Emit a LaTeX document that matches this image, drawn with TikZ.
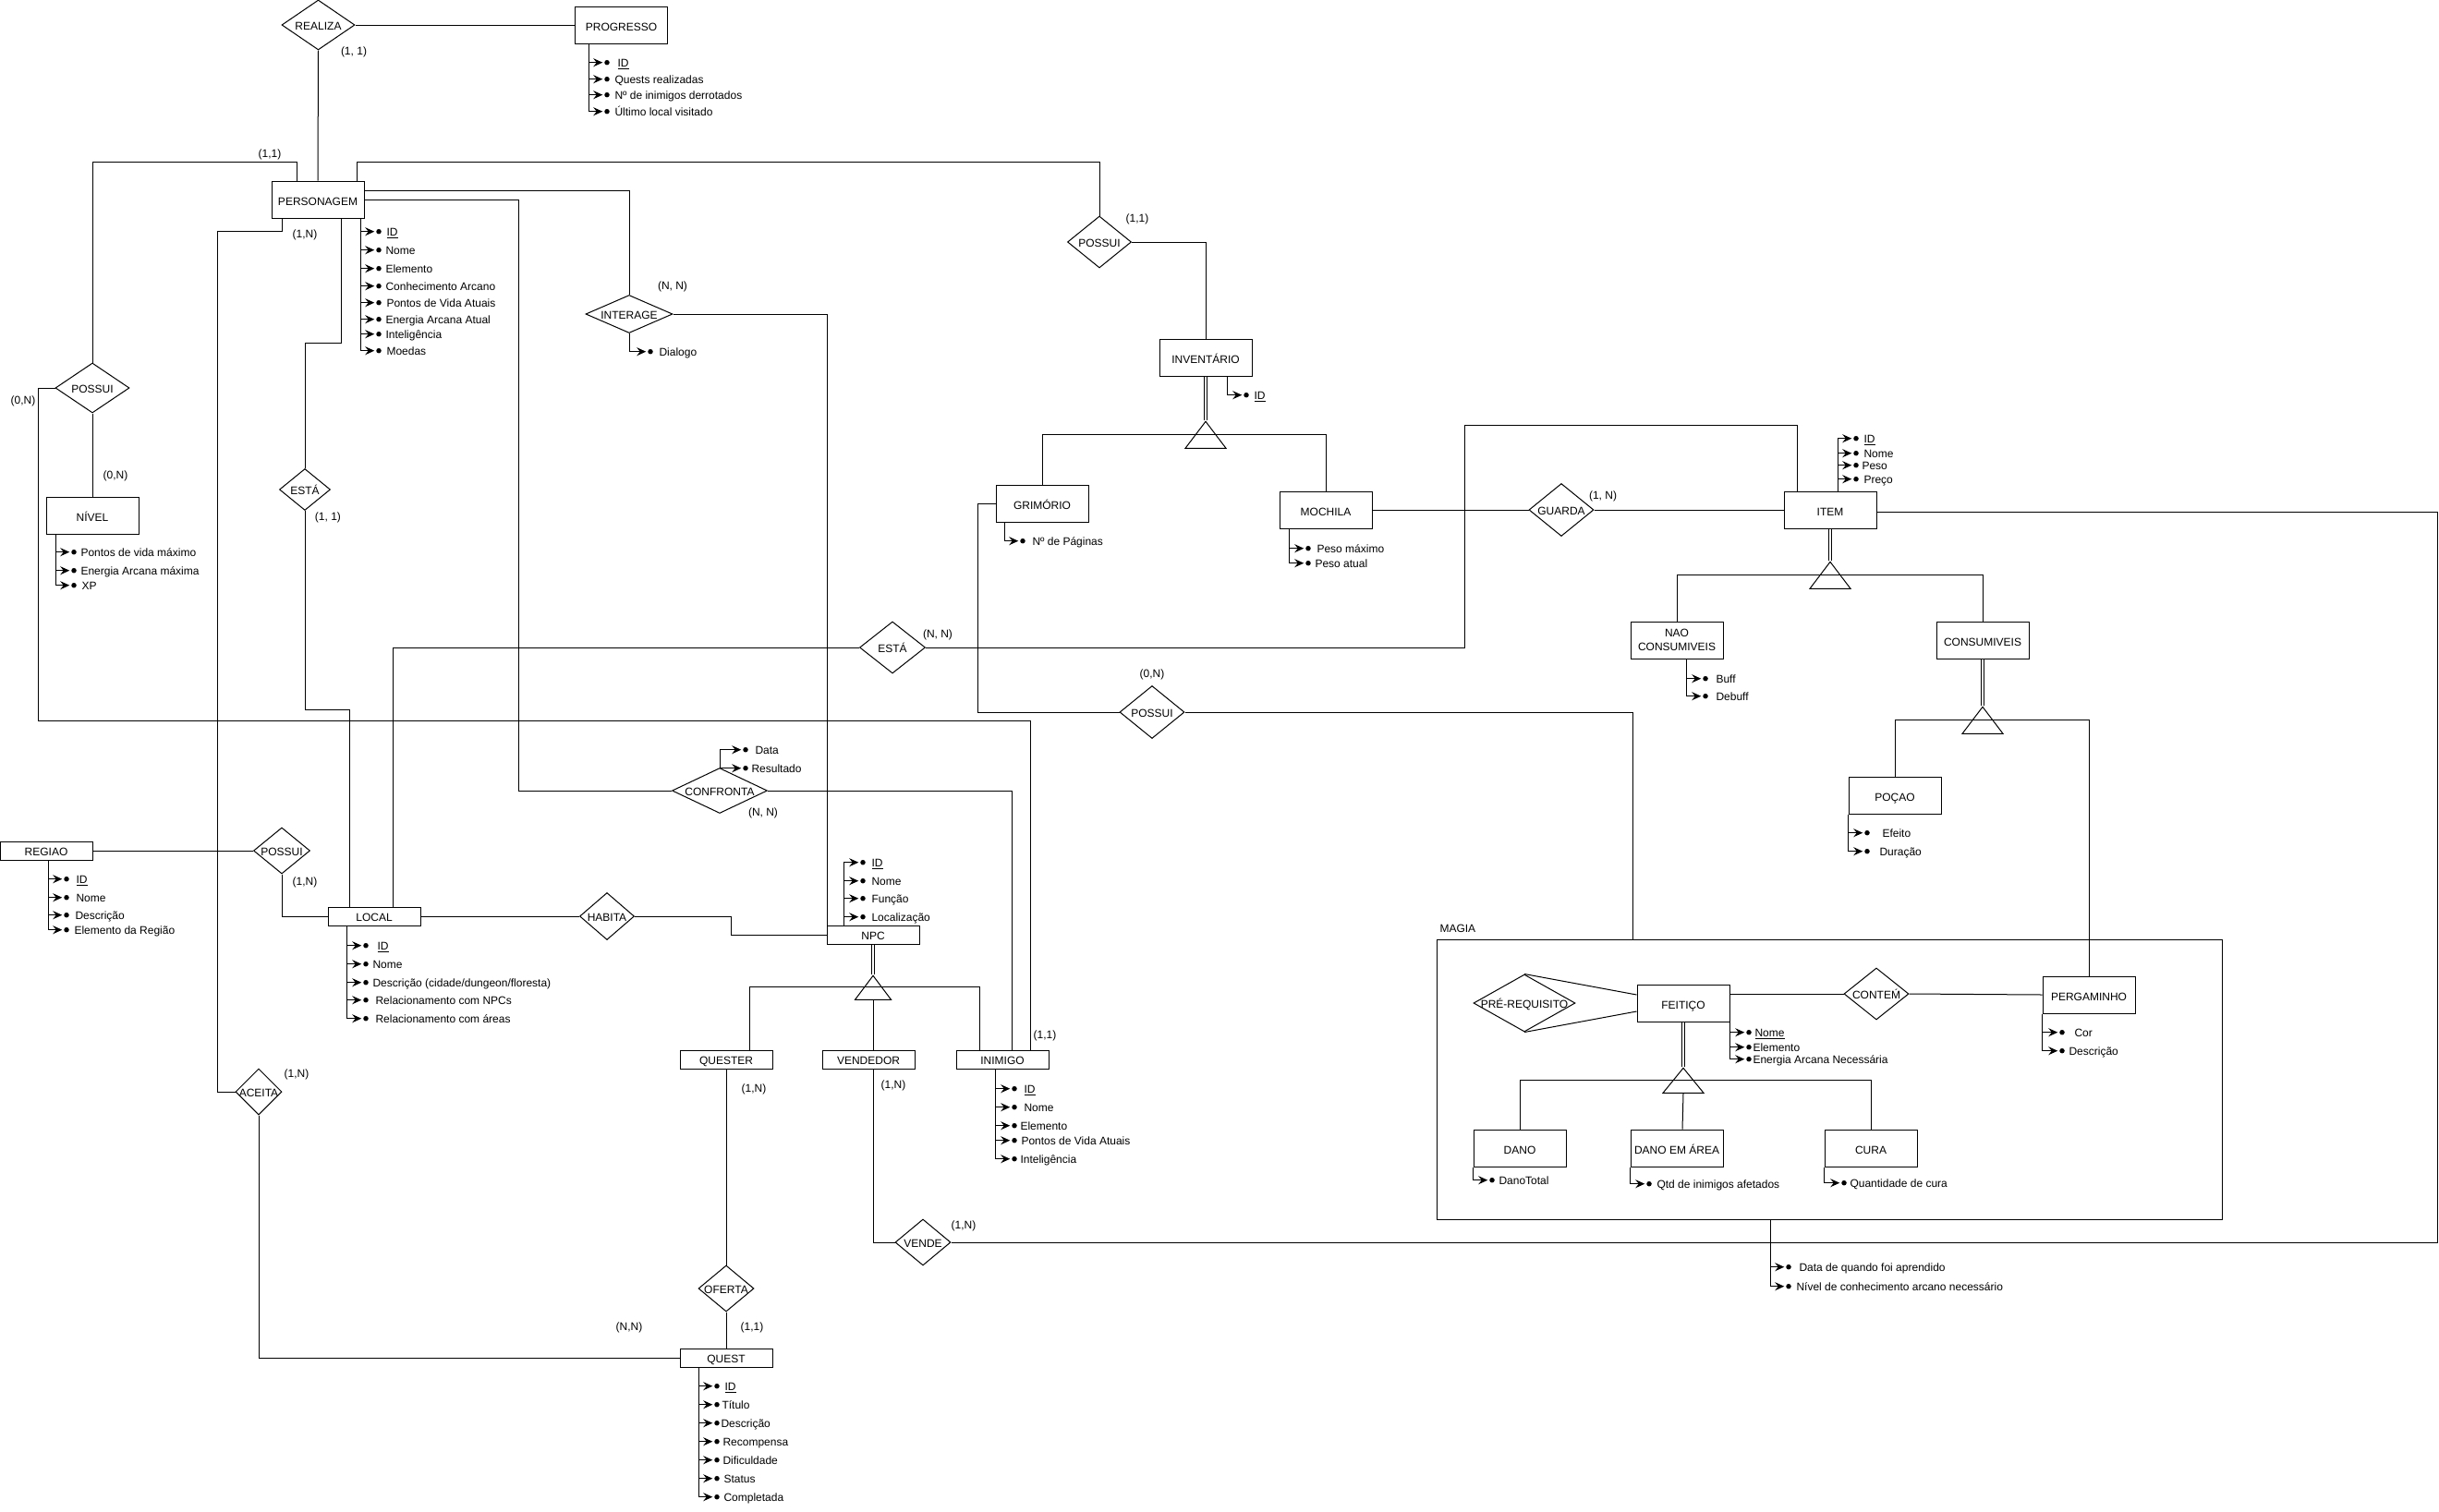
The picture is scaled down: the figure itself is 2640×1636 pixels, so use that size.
\documentclass[tikz,border=0pt]{standalone}
\usepackage{fontspec}
\setmainfont{Liberation Sans}
\usepackage{tikz}
\usetikzlibrary{arrows.meta}
\usetikzlibrary{shapes.geometric}
\tikzset{
  entity/.style={draw, inner sep=0pt, minimum width=100pt, minimum height=40pt, text height=12.6pt, text depth=0pt},
  thin box/.style={entity, minimum height=20pt, text height=11.5pt},
  relation/.style={draw, diamond, inner sep=0pt},
  isa/.style={draw, isosceles triangle, isosceles triangle stretches, shape border rotate=90, inner sep=0pt, anchor=apex, minimum width=44pt, minimum height=29pt},
  card/.style={inner sep=0pt, yshift=-0.8pt},
  attrdot/.style={circle, fill=black, inner sep=0pt, minimum size=5.5pt, outer sep=2pt, yshift=-0.7pt},
  attrtext/.style={anchor=west, inner sep=0pt, yshift=-2.2pt, text height=9pt, text depth=2.5pt},
  attrline/.style={-{Stealth[length=10pt,width=9pt,inset=3.5pt]}},
  isaline/.style={double, double distance=2.6pt}
}
\newcommand\rel[6]{
  \node[relation, minimum width=#4pt, minimum height=#5pt] (#1) at (#2,#3) {\makebox[0pt]{\smash{\raisebox{-5.8pt}{#6}}}};
}
\newcommand\attrib[6]{
  \node[attrdot] (#1-d#2) at (#4,#3) {};
  \node[attrtext] (#1-t#2) at (#5,#3) {#6};
  \draw[attrline] (#1-s) |- (#1-d#2);
}
\begin{document}
\begin{tikzpicture}[x=1pt, y=-1pt, line width=1pt, every node/.style={font=\fontsize{12}{15}\selectfont}]
  \useasboundingbox (0,0) rectangle (2640,1636);

  \node[entity] (prog) at (672.5,27) {PROGRESSO};
  \node[entity] (pers) at (344,216) {PERSONAGEM};
  \node[entity] (nivel) at (100,558) {NÍVEL};
  \node[entity] (inv) at (1305,387) {INVENTÁRIO};
  \node[entity] (grim) at (1128,545) {GRIMÓRIO};
  \node[entity] (moch) at (1435,552) {MOCHILA};
  \node[entity] (item) at (1981,552) {ITEM};
  \node[draw, inner sep=0pt, minimum width=100pt, minimum height=40pt, align=center] (nao) at (1815,693) {NAO\\CONSUMIVEIS};
  \node[entity] (cons) at (2146,693) {CONSUMIVEIS};
  \node[entity] (pocao) at (2051,861) {POÇAO};
  \node[draw, minimum width=850pt, minimum height=303pt] (magia) at (1980,1168.5) {};
  \node[entity] (feitico) at (1822,1086) {FEITIÇO};
  \node[entity] (perg) at (2261,1077) {PERGAMINHO};
  \node[entity] (dano) at (1645,1243) {DANO};
  \node[entity] (danoarea) at (1815,1243) {DANO EM ÁREA};
  \node[entity] (cura) at (2025,1243) {CURA};
  \node[thin box] (regiao) at (50,921) {REGIAO};
  \node[thin box] (local) at (405,992) {LOCAL};
  \node[thin box] (npc) at (945,1012) {NPC};
  \node[thin box] (quester) at (786,1147) {QUESTER};
  \node[thin box] (vendedor) at (940,1147) {VENDEDOR};
  \node[thin box] (inimigo) at (1085,1147) {INIMIGO};
  \node[thin box] (quest) at (786,1470) {QUEST};
  \node[card, anchor=west] (magia-l) at (1558,1005) {MAGIA};

  \rel{realiza}{344.5}{27}{79}{54}{REALIZA}
  \rel{possui-nivel}{100}{420}{80}{54}{POSSUI}
  \rel{possui-inv}{1190}{262}{69}{56}{POSSUI}
  \rel{interage}{681}{340}{94}{41}{INTERAGE}
  \rel{esta-pers}{330}{530}{55}{45}{ESTÁ}
  \rel{esta-local}{966}{701}{71}{56}{ESTÁ}
  \rel{guarda}{1690}{552}{70}{57}{GUARDA}
  \rel{possui-magia}{1247}{771}{70}{57}{POSSUI}
  \rel{confronta}{779}{856}{103}{49}{CONFRONTA}
  \rel{possui-reg}{305}{921}{61}{50}{POSSUI}
  \rel{habita}{657}{992}{59}{51}{HABITA}
  \rel{aceita}{280}{1182}{50}{50}{ACEITA}
  \rel{oferta}{786}{1395}{60}{50}{OFERTA}
  \rel{vende}{999}{1345}{60}{50}{VENDE}
  \rel{prereq}{1650}{1086}{110}{62}{PRÉ-REQUISITO}
  \rel{contem}{2031}{1076}{70}{56}{CONTE\'M}

  \node[isa] (tri-inv) at (1305,455) {};
  \node[isa] (tri-item) at (1981,607) {};
  \node[isa] (tri-cons) at (2146,764) {};
  \node[isa, minimum width=39pt, minimum height=26pt] (tri-npc) at (945,1055) {};
  \node[isa, minimum height=27pt] (tri-feit) at (1822,1155) {};

  \coordinate (c-aceita) at (235,250);
  \coordinate (c-esta) at (330,371);
  \coordinate (c-local) at (378,768);
  \coordinate (c-nivel) at (41,780);
  \coordinate (c-conf) at (561,856);
  \coordinate (c-item) at (1585,460);
  \coordinate (c-grim) at (1058,771);
  \coordinate (c-habita) at (791,1012);
  \coordinate (c-vende) at (2638,1345);

  \draw (realiza.east) -- (prog.west);
  \draw (realiza.south) -- (pers.north);
  \draw ([xshift=-23pt]pers.north) -- ++(0,-20.5) -| (possui-nivel.north);
  \draw ([xshift=42pt]pers.north) -- ++(0,-20.5) -| (possui-inv.north);
  \draw (possui-nivel.south) -- (nivel.north);
  \draw (possui-nivel.west) -| (c-nivel) -| ([xshift=30pt]inimigo.north);
  \draw ([xshift=-39pt]pers.south) |- (c-aceita) |- (aceita.west);
  \draw ([xshift=25pt]pers.south) |- (c-esta) -- (esta-pers.north);
  \draw (esta-pers.south) |- (c-local) -- ([xshift=-27pt]local.north);
  \draw ([yshift=10pt]pers.east) -| (interage.north);
  \draw (pers.east) -| (c-conf) -- (confronta.west);
  \draw (interage.east) -| ([xshift=-50pt]npc.north);
  \draw (confronta.east) -| ([xshift=10pt]inimigo.north);
  \draw (possui-inv.east) -| (inv.north);
  \draw (esta-local.west) -| ([xshift=20pt]local.north);
  \draw (esta-local.east) -| (c-item) -| ([xshift=-36pt]item.north);
  \draw (moch.east) -- (guarda.west);
  \draw (guarda.east) -- (item.west);
  \draw (grim.west) -| (c-grim) -- (possui-magia.west);
  \draw (possui-magia.east) -| ([xshift=-213pt]magia.north);
  \draw ([yshift=-2pt]item.east) -| (c-vende) -- (vende.east);
  \draw ([xshift=5pt]vendedor.south) |- (vende.west);
  \draw (regiao.east) -- (possui-reg.west);
  \draw (possui-reg.south) |- (local.west);
  \draw (local.east) -- (habita.west);
  \draw (habita.east) -| (c-habita) -- (npc.west);
  \draw (quester.south) -- (oferta.north);
  \draw (oferta.south) -- (quest.north);
  \draw (aceita.south) |- (quest.west);
  \draw (prereq.north) -- ([yshift=9pt]feitico.west);
  \draw (prereq.south) -- ([yshift=-9pt]feitico.west);
  \draw ([yshift=10pt]feitico.east) -- (contem.west);
  \draw (contem.east) -- (perg.west);

  \draw[isaline] (inv.south) -- (tri-inv.apex);
  \draw[isaline] (item.south) -- (tri-item.apex);
  \draw[isaline] (cons.south) -- (tri-cons.apex);
  \draw[isaline] (npc.south) -- (tri-npc.apex);
  \draw[isaline] (feitico.south) -- (tri-feit.apex);
  \draw (tri-inv.right side) -| (grim.north);
  \draw (tri-inv.left side) -| (moch.north);
  \draw (tri-item.right side) -| (nao.north);
  \draw (tri-item.left side) -| (cons.north);
  \draw (tri-cons.right side) -| (pocao.north);
  \draw (tri-cons.left side) -| (perg.north);
  \draw (tri-npc.right side) -| ([xshift=25pt]quester.north);
  \draw (tri-npc.left side) -| ([xshift=-25pt]inimigo.north);
  \draw (tri-npc.lower side) -- ([xshift=5pt]vendedor.north);
  \draw (tri-feit.right side) -| (dano.north);
  \draw (tri-feit.left side) -| (cura.north);
  \draw (tri-feit.lower side) -- ([xshift=6pt]danoarea.north);

  \node[card] (card-realiza) at (383,56) {(1, 1)};
  \node[card] (card-pers) at (292,167) {(1,1)};
  \node[card] (card-aceita) at (330,254) {(1,N)};
  \node[card] (card-nivel1) at (25,434) {(0,N)};
  \node[card] (card-nivel2) at (125,515) {(0,N)};
  \node[card] (card-esta) at (355,560) {(1, 1)};
  \node[card] (card-interage) at (728,310) {(N, N)};
  \node[card] (card-inv) at (1231,237) {(1,1)};
  \node[card] (card-guarda) at (1735,537) {(1, N)};
  \node[card] (card-local) at (1015,687) {(N, N)};
  \node[card] (card-magia) at (1247,730) {(0,N)};
  \node[card] (card-conf) at (826,880) {(N, N)};
  \node[card] (card-reg) at (330,955) {(1,N)};
  \node[card] (card-inim) at (1131,1121) {(1,1)};
  \node[card] (card-aceita2) at (321,1163) {(1,N)};
  \node[card] (card-quester) at (816,1179) {(1,N)};
  \node[card] (card-vend) at (967,1175) {(1,N)};
  \node[card] (card-vende) at (1043,1327) {(1,N)};
  \node[card] (card-oferta) at (814,1437) {(1,1)};
  \node[card] (card-quest) at (681,1437) {(N,N)};

  \coordinate (prog-s) at ([xshift=-35pt]prog.south);
  \attrib{prog}{1}{67}{657}{668}{\underline{ID}}
  \attrib{prog}{2}{85}{657}{665}{Quests realizadas}
  \attrib{prog}{3}{102}{657}{665}{Nº de inimigos derrotados}
  \attrib{prog}{4}{120}{657}{665}{Último local visitado}

  \coordinate (pers-s) at ([xshift=46pt]pers.south);
  \attrib{pers}{1}{250}{410}{418}{\underline{ID}}
  \attrib{pers}{2}{270}{410}{417}{Nome}
  \attrib{pers}{3}{290}{410}{417}{Elemento}
  \attrib{pers}{4}{309}{410}{417}{Conhecimento Arcano}
  \attrib{pers}{5}{327}{410}{418}{Pontos de Vida Atuais}
  \attrib{pers}{6}{345}{410}{417}{Energia Arcana Atual}
  \attrib{pers}{7}{361}{410}{417}{Inteligência}
  \attrib{pers}{8}{379}{410}{418}{Moedas}

  \coordinate (nivel-s) at ([xshift=-40pt]nivel.south);
  \attrib{nivel}{1}{597}{80}{87}{Pontos de vida máximo}
  \attrib{nivel}{2}{617}{80}{87}{Energia Arcana máxima}
  \attrib{nivel}{3}{633}{80}{88}{XP}

  \coordinate (interage-s) at (interage.south);
  \attrib{interage}{1}{380}{704}{713}{Dialogo}

  \coordinate (inv-s) at ([xshift=23pt]inv.south);
  \attrib{inv}{1}{427}{1349}{1357}{\underline{ID}}

  \coordinate (grim-s) at ([xshift=-41pt]grim.south);
  \attrib{grim}{1}{585}{1107}{1117}{Nº de Páginas}

  \coordinate (moch-s) at ([xshift=-40pt]moch.south);
  \attrib{moch}{1}{593}{1416}{1425}{Peso máximo}
  \attrib{moch}{2}{609}{1416}{1423}{Peso atual}

  \coordinate (item-s) at ([xshift=8pt]item.north);
  \attrib{item}{1}{474}{2009}{2017}{\underline{ID}}
  \attrib{item}{2}{490}{2009}{2017}{Nome}
  \attrib{item}{3}{503}{2009}{2015}{Peso}
  \attrib{item}{4}{518}{2009}{2017}{Preço}

  \coordinate (nao-s) at ([xshift=10pt]nao.south);
  \attrib{nao}{1}{734}{1846}{1857}{Buff}
  \attrib{nao}{2}{753}{1846}{1857}{Debuff}

  \coordinate (pocao-s) at (pocao.south west);
  \attrib{pocao}{1}{901}{2021}{2037}{Efeito}
  \attrib{pocao}{2}{921}{2021}{2034}{Duração}

  \coordinate (conf-s) at (confronta.north);
  \attrib{conf}{1}{811}{807}{817}{Data}
  \attrib{conf}{2}{831}{807}{813}{Resultado}

  \coordinate (reg-s) at ([xshift=2pt]regiao.south);
  \attrib{reg}{1}{951}{72}{82}{\underline{ID}}
  \attrib{reg}{2}{971}{72}{82}{Nome}
  \attrib{reg}{3}{990}{72}{81}{Descrição}
  \attrib{reg}{4}{1006}{72}{80}{Elemento da Região}

  \coordinate (local-s) at ([xshift=-30pt]local.south);
  \attrib{local}{1}{1023}{396}{408}{\underline{ID}}
  \attrib{local}{2}{1043}{396}{403}{Nome}
  \attrib{local}{3}{1063}{396}{403}{Descrição (cidade/dungeon/floresta)}
  \attrib{local}{4}{1082}{396}{406}{Relacionamento com NPCs}
  \attrib{local}{5}{1102}{396}{406}{Relacionamento com áreas}

  \coordinate (npc-s) at ([xshift=-32pt]npc.north);
  \attrib{npc}{1}{933}{934}{943}{\underline{ID}}
  \attrib{npc}{2}{953}{934}{943}{Nome}
  \attrib{npc}{3}{972}{934}{943}{Função}
  \attrib{npc}{4}{992}{934}{943}{Localização}

  \coordinate (inim-s) at ([xshift=-8pt]inimigo.south);
  \attrib{inim}{1}{1178}{1098}{1108}{\underline{ID}}
  \attrib{inim}{2}{1198}{1098}{1108}{Nome}
  \attrib{inim}{3}{1218}{1098}{1104}{Elemento}
  \attrib{inim}{4}{1234}{1098}{1105}{Pontos de Vida Atuais}
  \attrib{inim}{5}{1254}{1098}{1104}{Inteligência}

  \coordinate (quest-s) at ([xshift=-30pt]quest.south);
  \attrib{quest}{1}{1500}{776}{784}{\underline{ID}}
  \attrib{quest}{2}{1520}{776}{781}{Título}
  \attrib{quest}{3}{1540}{776}{780}{Descrição}
  \attrib{quest}{4}{1560}{776}{782}{Recompensa}
  \attrib{quest}{5}{1580}{776}{782}{Dificuldade}
  \attrib{quest}{6}{1600}{776}{783}{Status}
  \attrib{quest}{7}{1620}{776}{783}{Completada}

  \coordinate (feit-s) at (feitico.south east);
  \attrib{feit}{1}{1117}{1893}{1899}{\underline{Nome}}
  \attrib{feit}{2}{1133}{1893}{1897}{Elemento}
  \attrib{feit}{3}{1146}{1893}{1897}{Energia Arcana Necessária}

  \coordinate (perg-s) at (perg.south west);
  \attrib{perg}{1}{1117}{2232}{2245}{Cor}
  \attrib{perg}{2}{1137}{2232}{2239}{Descrição}

  \coordinate (dano-s) at (dano.south west);
  \attrib{dano}{1}{1277}{1615}{1622}{DanoTotal}

  \coordinate (area-s) at (danoarea.south west);
  \attrib{area}{1}{1281}{1785}{1793}{Qtd de inimigos afetados}

  \coordinate (cura-s) at (cura.south west);
  \attrib{cura}{1}{1280}{1996}{2002}{Quantidade de cura}

  \coordinate (magia-s) at ([xshift=-64pt]magia.south);
  \attrib{magia}{1}{1371}{1936}{1947}{Data de quando foi aprendido}
  \attrib{magia}{2}{1392}{1936}{1944}{Nível de conhecimento arcano necessário}
\end{tikzpicture}
\end{document}
